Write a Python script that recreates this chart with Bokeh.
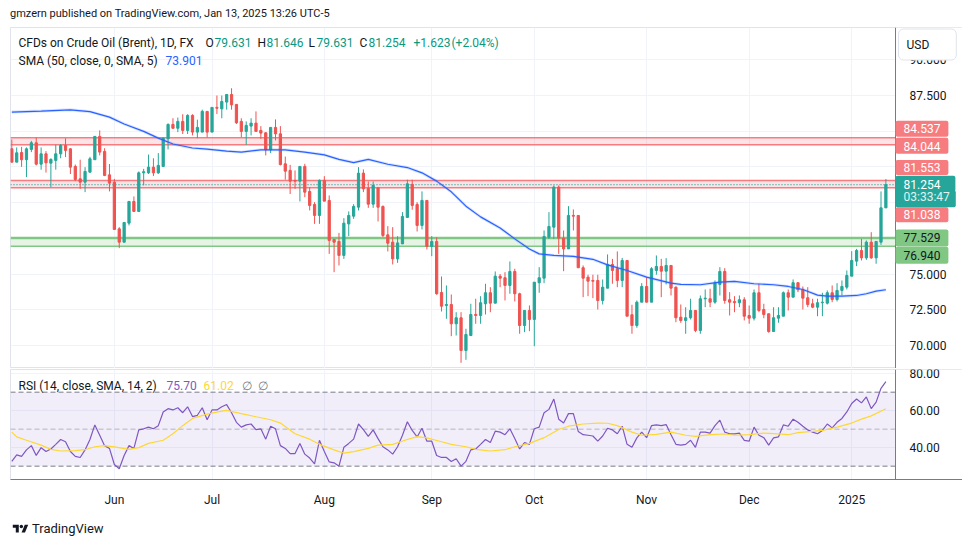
import pandas as pd
from bokeh.plotting import figure
from bokeh.models import (Range1d, FixedTicker, PrintfTickFormatter, BoxAnnotation,
                          Label, Div, ColumnDataSource, LinearAxis, Grid)
from bokeh.layouts import column
from bokeh.embed import file_html
from bokeh.resources import INLINE

# ---------------- data ----------------
opens = [83.76, 82.83, 83.50, 83.00, 83.72, 84.18, 82.69, 83.41, 82.76, 82.95,
         83.41, 84.00, 83.76, 82.53, 81.66, 81.43, 82.13, 83.00, 84.63, 83.58,
         81.94, 81.43, 78.16, 77.23, 78.56, 80.08, 79.38, 82.08, 82.08, 82.48,
         82.08, 82.53, 84.46, 85.47, 85.20, 85.68, 85.05, 86.10, 84.93, 84.93,
         86.38, 84.93, 86.66, 86.56, 87.03, 87.56, 86.87, 85.68, 84.98, 85.35,
         85.56, 85.05, 84.88, 83.69, 85.26, 84.81, 82.71, 82.25, 81.55, 81.50,
         82.53, 80.78, 79.87, 79.10, 81.55, 80.15, 77.42, 77.28, 76.30, 78.51,
         79.05, 79.68, 82.06, 81.00, 79.89, 81.03, 79.73, 77.74, 77.23, 76.06,
         77.11, 78.96, 81.27, 79.87, 78.40, 80.15, 76.93, 77.28, 73.71, 72.80,
         72.87, 71.52, 71.94, 69.65, 70.70, 72.17, 72.10, 72.92, 73.69, 72.96,
         74.85, 74.74, 74.20, 75.18, 73.62, 71.40, 72.45, 71.82, 74.39, 74.71,
         77.58, 78.28, 81.08, 77.51, 76.76, 79.10, 79.10, 75.44, 74.78, 74.55,
         74.55, 73.15, 74.01, 75.67, 75.37, 74.55, 75.95, 72.15, 71.40, 73.03,
         74.13, 73.03, 75.25, 75.53, 75.20, 75.60, 74.08, 71.98, 71.75, 71.94,
         72.45, 71.05, 73.27, 73.27, 73.03, 74.27, 75.18, 73.20, 73.08, 72.99,
         73.20, 72.10, 71.91, 73.69, 72.52, 72.22, 70.98, 71.91, 72.05, 73.69,
         73.38, 74.39, 73.90, 73.34, 72.92, 72.68, 72.99, 72.96, 73.69, 73.22,
         73.85, 74.08, 74.85, 75.90, 76.65, 76.13, 77.23, 76.13, 77.23, 79.631]
highs = [84.42, 83.86, 83.90, 83.86, 84.32, 84.55, 83.86, 83.60, 83.10, 84.05,
         84.09, 84.50, 83.80, 82.66, 83.00, 82.48, 83.20, 84.63, 85.05, 83.80,
         82.70, 81.66, 78.28, 78.61, 80.08, 80.43, 82.18, 82.36, 83.36, 83.10,
         83.46, 84.58, 85.54, 85.90, 85.95, 86.18, 86.18, 86.18, 85.80, 86.50,
         86.38, 86.66, 87.49, 87.49, 87.56, 88.00, 86.87, 85.90, 85.68, 85.90,
         86.38, 85.35, 84.93, 85.26, 85.82, 85.35, 83.22, 82.64, 82.25, 82.53,
         82.71, 81.08, 80.03, 81.62, 81.85, 80.50, 77.42, 77.88, 78.91, 79.38,
         79.89, 82.48, 82.32, 81.48, 81.48, 81.03, 79.80, 78.35, 78.28, 77.65,
         79.33, 81.60, 81.60, 80.03, 80.78, 80.15, 77.65, 77.58, 74.83, 74.20,
         73.57, 72.33, 72.33, 71.17, 72.92, 73.27, 73.45, 74.32, 74.08, 75.18,
         75.00, 75.13, 75.88, 75.37, 73.69, 72.45, 72.80, 74.43, 75.48, 78.05,
         79.33, 81.20, 81.20, 78.05, 79.75, 79.52, 79.10, 75.60, 74.95, 74.95,
         74.95, 74.62, 76.37, 76.06, 76.58, 76.13, 75.95, 72.85, 73.15, 74.36,
         74.78, 75.48, 76.30, 76.06, 76.11, 75.60, 74.13, 72.87, 72.68, 73.27,
         72.45, 73.50, 73.92, 73.97, 74.55, 75.48, 75.41, 73.73, 73.45, 73.50,
         73.38, 72.80, 73.92, 74.32, 72.92, 72.22, 72.68, 72.68, 73.78, 73.92,
         74.62, 74.43, 74.13, 74.08, 73.27, 73.27, 73.69, 73.85, 74.20, 74.36,
         74.55, 75.25, 76.60, 76.76, 77.46, 77.35, 77.93, 77.28, 80.78, 81.646]
lows = [82.80, 82.83, 82.50, 81.78, 83.53, 82.60, 82.30, 82.10, 81.08, 82.30,
        83.10, 83.18, 82.00, 81.50, 80.96, 80.73, 82.10, 83.00, 83.30, 81.85,
        80.78, 78.10, 76.81, 77.20, 78.40, 79.35, 79.35, 81.20, 82.00, 81.85,
        82.00, 82.50, 83.72, 85.16, 84.93, 84.80, 84.80, 84.70, 84.50, 84.93,
        84.56, 84.93, 86.20, 85.90, 86.50, 86.50, 85.50, 84.58, 84.04, 84.70,
        84.98, 84.46, 83.30, 83.46, 84.35, 82.60, 81.60, 80.60, 80.96, 80.08,
        80.38, 79.45, 78.51, 78.51, 80.10, 76.41, 75.13, 75.60, 76.06, 77.65,
        78.86, 79.45, 80.73, 79.63, 79.63, 78.68, 77.58, 76.58, 75.67, 75.78,
        77.10, 78.95, 79.50, 77.98, 78.12, 76.72, 76.25, 73.55, 72.38, 71.87,
        70.65, 70.70, 68.79, 69.00, 70.65, 71.52, 71.52, 72.17, 72.33, 72.96,
        74.08, 73.15, 73.62, 73.08, 70.82, 70.93, 71.00, 69.95, 73.69, 74.36,
        77.46, 77.46, 76.41, 75.20, 76.76, 78.05, 75.44, 73.38, 73.45, 73.31,
        72.52, 72.87, 74.01, 74.32, 74.08, 74.08, 72.05, 70.82, 71.24, 73.03,
        73.03, 73.03, 74.95, 73.38, 74.27, 73.50, 71.63, 71.59, 70.82, 71.82,
        70.93, 70.82, 72.68, 72.68, 72.92, 73.50, 72.92, 72.10, 72.33, 72.68,
        71.75, 71.52, 71.75, 72.33, 71.91, 70.89, 70.98, 71.59, 72.05, 72.45,
        73.38, 73.73, 72.52, 72.68, 72.61, 72.05, 72.05, 72.87, 73.03, 73.08,
        73.50, 73.92, 74.85, 75.55, 75.95, 75.99, 76.06, 75.72, 77.04, 79.631]
closes = [82.83, 83.48, 83.00, 83.76, 84.18, 82.69, 83.41, 82.78, 83.02, 83.41,
          84.00, 83.65, 82.48, 81.62, 81.43, 82.18, 83.06, 84.63, 83.53, 81.90,
          81.36, 78.12, 77.23, 78.61, 80.08, 79.38, 82.08, 82.16, 82.48, 82.08,
          82.60, 84.50, 85.47, 85.20, 85.68, 85.05, 86.10, 84.93, 85.26, 86.38,
          84.93, 86.66, 86.60, 87.07, 87.56, 86.84, 85.58, 84.98, 85.40, 85.56,
          84.98, 84.86, 83.69, 85.26, 84.81, 82.66, 82.20, 81.50, 81.50, 82.53,
          80.73, 79.80, 79.10, 81.55, 80.10, 77.35, 77.23, 76.30, 78.56, 79.10,
          79.73, 82.06, 80.96, 79.89, 81.20, 79.68, 77.70, 77.16, 76.06, 77.18,
          79.03, 81.31, 79.80, 78.40, 80.15, 76.93, 77.28, 73.62, 72.75, 72.87,
          71.52, 71.94, 69.65, 70.77, 72.17, 72.10, 72.99, 73.69, 72.96, 74.85,
          74.71, 74.20, 75.18, 73.62, 71.40, 72.45, 71.82, 74.43, 74.74, 77.63,
          78.33, 81.08, 77.51, 76.76, 79.10, 79.05, 75.44, 74.71, 74.50, 74.50,
          73.15, 74.08, 75.67, 75.25, 74.55, 75.95, 72.05, 71.40, 73.03, 74.13,
          73.03, 75.37, 75.53, 75.20, 75.60, 74.01, 71.94, 71.75, 71.94, 72.45,
          71.05, 73.27, 73.31, 73.03, 74.39, 75.18, 73.15, 73.03, 72.99, 73.20,
          72.05, 71.91, 73.69, 72.45, 72.17, 70.98, 71.94, 72.10, 73.69, 73.38,
          74.39, 73.90, 73.31, 72.87, 72.68, 72.99, 73.03, 73.69, 73.22, 73.85,
          74.13, 74.90, 75.95, 76.65, 76.13, 77.23, 76.13, 77.28, 79.631, 81.254]

# SMA(50) read at selected bars (bar index, value)
sma_idx = [0, 6, 12, 16, 20, 23, 27, 30, 33, 37, 40, 44, 47, 51, 56, 60, 64, 67, 70,
           73, 77, 81, 84, 87, 90, 93, 96, 100, 103, 106, 108, 111, 115, 119, 122,
           126, 130, 135, 137, 141, 145, 148, 152, 156, 159, 162, 165, 167, 170,
           173, 175, 177, 179]
sma_val = [86.33, 86.40, 86.49, 86.36, 85.98, 85.50, 84.98, 84.51, 84.10, 83.82,
           83.74, 83.60, 83.53, 83.69, 83.69, 83.53, 83.34, 83.02, 82.80, 83.02,
           82.68, 82.45, 82.08, 81.50, 80.75, 79.75, 79.00, 78.22, 77.46, 76.75,
           76.41, 76.30, 76.23, 76.03, 75.64, 75.25, 74.78, 74.36, 74.27, 74.25,
           74.43, 74.48, 74.32, 74.25, 74.13, 73.92, 73.52, 73.45, 73.45, 73.50,
           73.62, 73.80, 73.901]

rsi = [32.6, 36.1, 35.3, 38.8, 41.1, 35.8, 40.0, 37.9, 39.3, 41.8,
       44.4, 43.2, 37.9, 35.3, 34.7, 38.8, 44.4, 52.3, 46.7, 41.1,
       39.6, 30.9, 28.6, 35.8, 41.1, 39.6, 49.6, 50.2, 51.1, 50.2,
       51.9, 59.3, 61.1, 60.4, 61.6, 58.9, 62.1, 56.8, 57.5, 61.6,
       55.1, 60.4, 60.4, 62.1, 63.3, 58.9, 53.7, 51.1, 52.3, 52.8,
       49.8, 50.2, 44.6, 51.6, 50.2, 41.1, 39.6, 36.8, 36.8, 42.3,
       36.5, 34.4, 31.2, 44.0, 37.9, 32.3, 31.8, 30.0, 40.2, 42.3,
       44.6, 52.8, 49.8, 46.1, 49.6, 44.9, 40.5, 38.8, 36.5, 40.5,
       46.7, 54.0, 49.3, 45.8, 50.5, 43.5, 43.5, 35.8, 34.7, 34.7,
       32.5, 34.0, 30.0, 32.6, 38.8, 39.3, 41.8, 44.4, 42.8, 48.9,
       48.4, 47.0, 50.2, 44.9, 39.3, 42.8, 41.8, 50.2, 51.1, 58.9,
       60.7, 66.3, 55.4, 53.3, 58.4, 58.4, 48.8, 47.0, 46.7, 46.3,
       43.5, 46.3, 50.5, 49.6, 47.5, 51.6, 41.8, 40.2, 45.3, 48.4,
       45.4, 51.9, 52.3, 51.9, 52.5, 47.0, 41.8, 41.4, 41.8, 44.0,
       40.2, 48.4, 48.4, 47.9, 51.9, 54.9, 48.4, 47.5, 47.5, 47.9,
       43.9, 43.5, 51.1, 46.7, 45.4, 41.4, 45.3, 45.8, 52.3, 51.6,
       55.4, 53.7, 51.6, 49.6, 48.4, 47.5, 49.3, 52.8, 50.7, 53.7,
       55.8, 59.3, 63.9, 66.3, 64.2, 67.4, 61.1, 64.6, 72.1, 75.70]

rsi_ma_idx = [0, 1, 3, 6, 8, 10, 13, 15, 17, 19, 21, 24, 26, 28, 31, 33, 35, 37, 40,
              43, 44, 47, 50, 53, 55, 58, 61, 63, 66, 68, 70, 73, 75, 78, 81, 83, 85,
              88, 90, 93, 95, 98, 101, 103, 106, 109, 112, 114, 117, 120, 122, 124,
              127, 129, 132, 135, 138, 140, 143, 146, 148, 151, 154, 157, 159, 161,
              164, 166, 169, 172, 174, 176, 179]
rsi_ma_val = [48.4, 45.8, 44.0, 41.4, 39.1, 38.2, 38.4, 38.9, 40.5, 41.1, 40.4, 39.1,
              40.0, 42.3, 44.0, 47.5, 51.9, 55.8, 58.1, 59.8, 60.2, 58.4, 56.7, 55.1,
              53.3, 47.5, 44.6, 41.8, 38.8, 37.0, 37.9, 39.6, 41.4, 41.8, 44.4, 46.0,
              45.3, 43.2, 41.8, 40.5, 39.1, 38.2, 38.9, 40.5, 42.3, 45.4, 49.8, 51.6,
              52.8, 53.3, 53.2, 51.9, 48.4, 46.7, 47.2, 48.4, 46.7, 46.1, 47.0, 47.4,
              46.7, 47.0, 47.9, 47.5, 47.0, 48.1, 48.8, 49.3, 51.1, 53.3, 55.4, 57.2,
              61.02]

zone_red_1 = (84.044, 84.537)
zone_red_2 = (81.038, 81.553)
zone_green = (76.940, 77.529)
price_ticks = [70, 72.5, 75, 77.5, 80, 82.5, 85, 87.5, 90]
rsi_ticks = [40, 60, 80]
rsi_levels = [70, 50, 30]
countdown = "03:33:47"
holidays = ["2024-12-25", "2025-01-01"]

# ---------------- derived ----------------
dates = [d for d in pd.bdate_range("2024-05-03", "2025-01-13")
         if d.strftime("%Y-%m-%d") not in holidays]
n = len(closes)
idx = list(range(n))
month_ticks = [i for i in range(1, len(dates)) if dates[i].month != dates[i - 1].month]
month_labels = {i: (str(dates[i].year) if dates[i].month == 1 else dates[i].strftime("%b"))
                for i in month_ticks}

FONT = "Roboto"
UP, DOWN = "#26a69a", "#ef5350"
GRID = "#f0f3fa"
TXT = "#131722"
SCALE = "#787b86"

# frame spans the chart area plus the price-scale column; the scale starts at X_EDGE
X_EDGE = 180.97
xr = Range1d(-0.27, 194.69)
yr = Range1d(68.39, 92.25)
yr2 = Range1d(22.79, 82.26)


def make_pane(height, y_range, ticks, fmt, bottom):
    p = figure(width=962, height=height, x_range=xr, y_range=y_range, title=None,
               output_backend="svg", toolbar_location=None,
               x_axis_location="below" if bottom else None, y_axis_location=None,
               min_border_left=10, min_border_right=0, min_border_top=1,
               min_border_bottom=27 if bottom else 0)
    p.outline_line_color = "#e0e3eb"
    p.background_fill_color = "white"
    p.border_fill_color = "white"
    p.grid.visible = False
    p.add_layout(Grid(dimension=0, ticker=FixedTicker(ticks=month_ticks),
                      grid_line_color=GRID), "center")
    p.add_layout(Grid(dimension=1, ticker=FixedTicker(ticks=ticks),
                      grid_line_color=GRID), "center")
    # blank price-scale column
    p.add_layout(BoxAnnotation(left=X_EDGE, fill_color="white", fill_alpha=1.0,
                               line_color=None, level="underlay"))
    ax = LinearAxis(fixed_location=X_EDGE, ticker=FixedTicker(ticks=ticks),
                    formatter=PrintfTickFormatter(format=fmt))
    ax.major_tick_line_color = None
    ax.minor_tick_line_color = None
    ax.axis_line_color = SCALE
    ax.major_label_text_font = FONT
    ax.major_label_text_font_size = "12px"
    ax.major_label_text_color = TXT
    ax.major_label_standoff = 8
    p.add_layout(ax, "right")
    return p


# ---------------- main price pane ----------------
p1 = make_pane(342, yr, price_ticks, "%.3f", False)

for (lo, hi), fill in [(zone_red_1, "#f23645"), (zone_red_2, "#f23645"),
                       (zone_green, "#4caf50")]:
    p1.add_layout(BoxAnnotation(bottom=lo, top=hi, right=X_EDGE, fill_color=fill,
                                fill_alpha=0.14, line_color=None, level="underlay"))
zl = [zone_red_1[1], zone_red_1[0], zone_red_2[1], zone_red_2[0], zone_green[1], zone_green[0]]
p1.segment(x0=[xr.start] * 6, x1=[X_EDGE] * 6, y0=zl, y1=zl,
           line_color=["#f77c80"] * 4 + ["#81c784"] * 2,
           line_width=[1.5, 1.5, 1.5, 1.5, 2.5, 1.5])
p1.segment(x0=[xr.start], x1=[X_EDGE], y0=[closes[-1]], y1=[closes[-1]],
           line_color=UP, line_width=1.3, line_dash="1 2")

colors = [UP if c >= o else DOWN for o, c in zip(opens, closes)]
src = ColumnDataSource(dict(x=idx, h=highs, l=lows,
                            top=[max(o, c) for o, c in zip(opens, closes)],
                            bot=[min(o, c) for o, c in zip(opens, closes)],
                            color=colors))
p1.segment(x0="x", y0="l", x1="x", y1="h", line_color="color", line_width=1, source=src)
p1.vbar(x="x", width=0.46, top="top", bottom="bot", fill_color="color",
        line_color="color", line_width=1, source=src)

p1.line(sma_idx, sma_val, line_color="#2962ff", line_width=3, line_alpha=0.18)
p1.line(sma_idx, sma_val, line_color="#2962ff", line_width=1.2)


def seg_labels(fig, yref, yoff, segs):
    for text, dx, col in segs:
        fig.add_layout(Label(x=xr.start, y=yref, x_offset=dx, y_offset=yoff, text=text,
                             text_font=FONT, text_font_size="12px", text_color=col,
                             text_align="left", text_baseline="middle"))


chg = closes[-1] - closes[-2]
pct = chg / closes[-2] * 100
seg_labels(p1, yr.end, -15, [
    ("CFDs on Crude Oil (Brent), 1D, FX", 8, TXT),
    ("O", 195, TXT), (f"{opens[-1]:.3f}", 204, "#089981"),
    ("H", 247, TXT), (f"{highs[-1]:.3f}", 256, "#089981"),
    ("L", 298, TXT), (f"{lows[-1]:.3f}", 306, "#089981"),
    ("C", 349, TXT), (f"{closes[-1]:.3f}", 358, "#089981"),
    (f"{chg:+.3f}", 403, "#089981"), (f"({pct:+.2f}%)", 441, "#089981"),
])
seg_labels(p1, yr.end, -33, [
    ("SMA (50, close, 0, SMA, 5)", 8, TXT),
    (f"{sma_val[-1]:.3f}", 155, "#2962ff"),
])


def price_box(price, text, bg, fg, yoff, pad_r=8, pad_t=3, pad_b=3):
    p1.add_layout(Label(x=X_EDGE, y=price, x_offset=0, y_offset=yoff, text=text,
                        text_font=FONT, text_font_size="12px", text_color=fg,
                        text_align="left", text_baseline="middle",
                        background_fill_color=bg, background_fill_alpha=1.0,
                        padding=dict(left=8, right=pad_r, top=pad_t, bottom=pad_b),
                        border_radius=2))


RED_BOX, GREEN_BOX = "#f77c80", "#81c784"
price_box(zone_red_1[1], f"{zone_red_1[1]:.3f}", RED_BOX, "white", 9, pad_t=3, pad_b=4)
price_box(zone_red_1[0], f"{zone_red_1[0]:.3f}", RED_BOX, "white", -1, pad_t=4, pad_b=3)
price_box(zone_red_2[1], f"{zone_red_2[1]:.3f}", RED_BOX, "white", 13, pad_t=3, pad_b=3)
price_box(zone_red_2[0], f"{zone_red_2[0]:.3f}", RED_BOX, "white", -27, pad_t=3, pad_b=3)
price_box(closes[-1], f"{closes[-1]:.3f}", UP, "white", 1, pad_r=15, pad_t=4, pad_b=3)
price_box(closes[-1], countdown, UP, "#e0f2f1", -14, pad_r=6, pad_t=0, pad_b=3)
price_box(zone_green[1], f"{zone_green[1]:.3f}", GREEN_BOX, TXT, 0, pad_r=8, pad_t=4, pad_b=4)
price_box(zone_green[0], f"{zone_green[0]:.3f}", GREEN_BOX, TXT, -9, pad_r=8, pad_t=4, pad_b=4)

p1.add_layout(Label(x=X_EDGE, y=yr.end, x_offset=3, y_offset=-17, text="USD",
                    text_font=FONT, text_font_size="12px", text_color=TXT,
                    text_align="left", text_baseline="middle",
                    background_fill_color="white", background_fill_alpha=1.0,
                    border_line_color="#e0e3eb", border_line_width=1,
                    padding=dict(left=8, right=27, top=9, bottom=8), border_radius=5))

# ---------------- RSI pane ----------------
p2 = make_pane(141, yr2, rsi_ticks, "%.2f", True)
xa = p2.xaxis[0]
xa.ticker = FixedTicker(ticks=month_ticks)
xa.major_label_overrides = month_labels
xa.major_tick_line_color = None
xa.minor_tick_line_color = None
xa.axis_line_color = SCALE
xa.major_label_text_font = FONT
xa.major_label_text_font_size = "12px"
xa.major_label_text_color = TXT
xa.major_label_standoff = 7

p2.add_layout(BoxAnnotation(bottom=rsi_levels[2], top=rsi_levels[0], right=X_EDGE,
                            fill_color="#7e57c2", fill_alpha=0.1, line_color=None,
                            level="underlay"))
p2.segment(x0=[xr.start] * 3, x1=[X_EDGE] * 3, y0=rsi_levels, y1=rsi_levels,
           line_color=SCALE, line_alpha=[1.0, 0.5, 1.0], line_width=1, line_dash="5 3")

p2.line(idx, rsi, line_color="#7e57c2", line_width=1.2)
p2.line(rsi_ma_idx, rsi_ma_val, line_color="#fdd835", line_width=1.2)

seg_labels(p2, yr2.end, -16, [
    ("RSI (14, close, SMA, 14, 2)", 8, TXT),
    (f"{rsi[-1]:.2f}", 156, "#7e57c2"),
    (f"{rsi_ma_val[-1]:.2f}", 193, "#fdd835"),
    ("\u2205", 231, SCALE),
    ("\u2205", 247, SCALE),
])

# ---------------- header / footer ----------------
header = Div(text='<div style="font-family:Roboto;font-size:11px;color:#131722;'
                  'line-height:14px;padding:7px 0 0 10px;white-space:nowrap">'
                  'gmzern published on TradingView.com, Jan 13, 2025 13:26 UTC-5</div>',
             width=962, height=26, margin=(0, 0, 0, 0))
footer = Div(text='<div style="display:flex;align-items:center;gap:3px;padding:11px 0 0 12px;'
                  'font-family:Roboto;font-size:13px;color:#131722">'
                  '<svg width="17" height="12" viewBox="0 0 36 28">'
                  '<path d="M14 22H7V11H0V4h14z" fill="#131722"/>'
                  '<circle cx="20" cy="8" r="4" fill="#131722"/>'
                  '<path d="M28 4h8l-7.5 18H20.5z" fill="#131722"/></svg>'
                  '<span>TradingView</span></div>',
             width=962, height=30, margin=(0, 0, 0, 0))

layout = column(header, p1, p2, footer, spacing=0)
open("out.html", "w").write(file_html(layout, INLINE))
